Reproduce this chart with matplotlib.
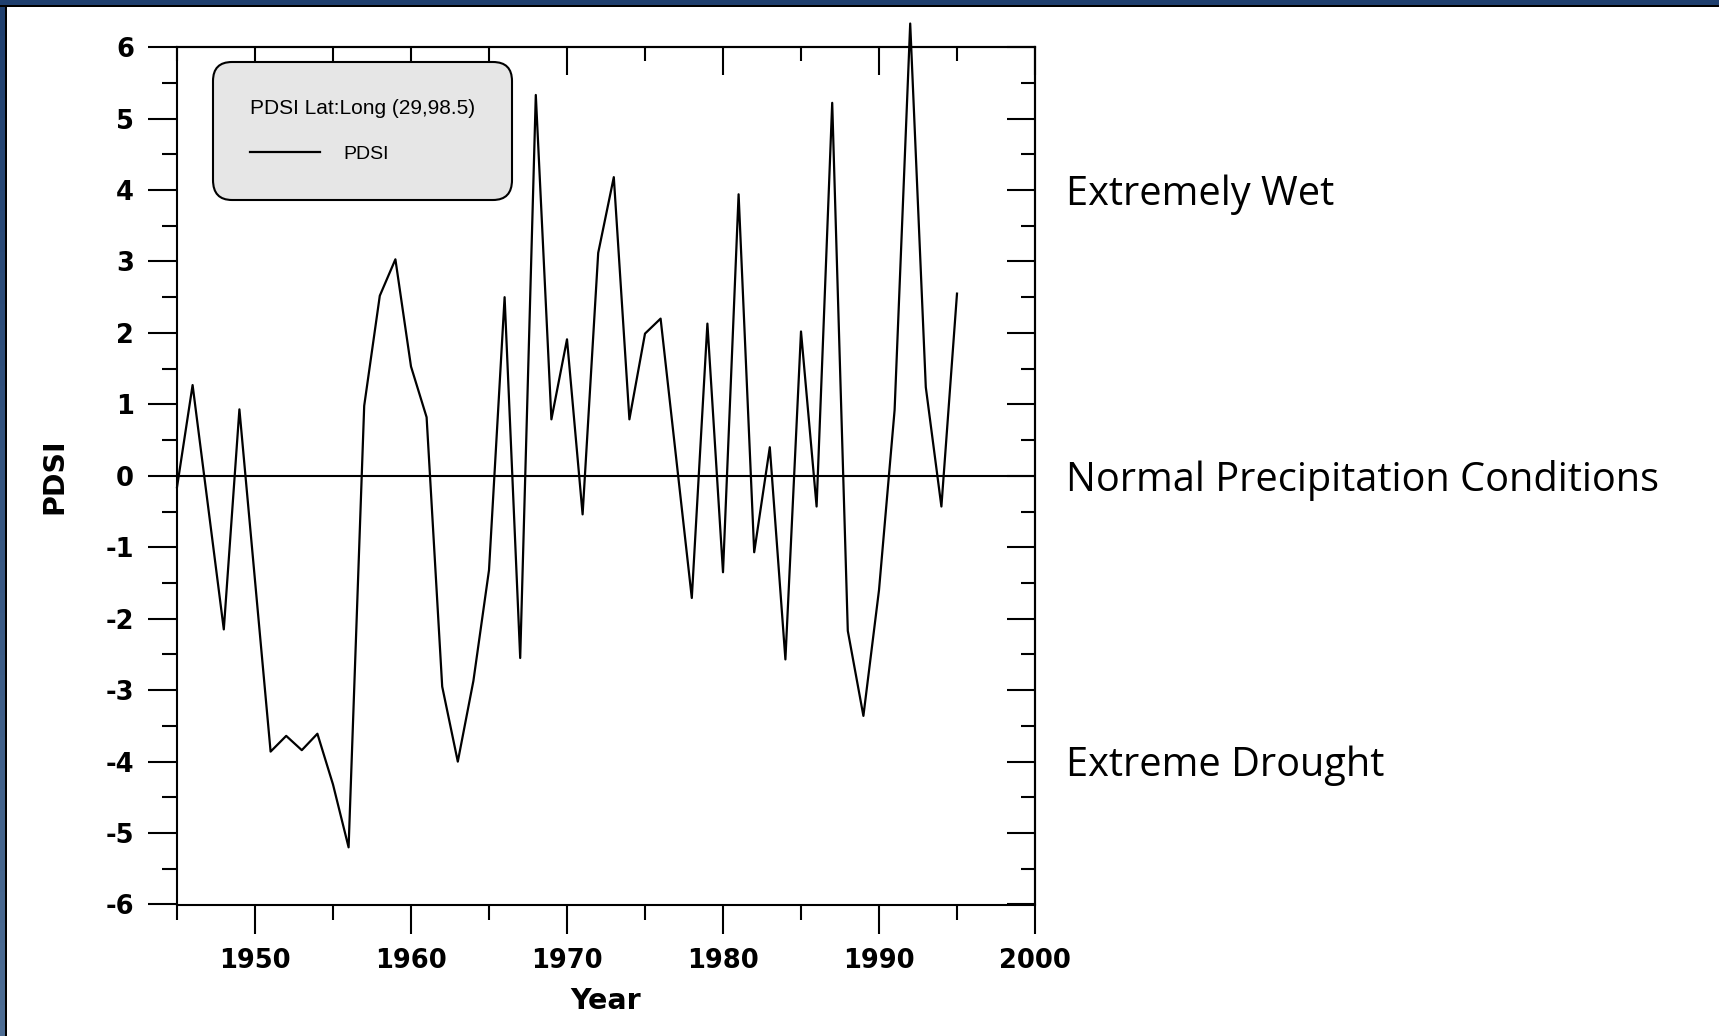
import matplotlib
matplotlib.use('Agg')
import matplotlib.pyplot as plt
from matplotlib.ticker import MultipleLocator
from matplotlib.patches import Rectangle
from matplotlib.colors import LinearSegmentedColormap
import numpy as np

# ======================
# DATA
# ======================

years = [1945, 1946, 1948, 1949, 1951, 1952, 1953, 1954, 1955, 1956,
         1957, 1958, 1959, 1960, 1961, 1962, 1963, 1964, 1965, 1966,
         1967, 1968, 1969, 1970, 1971, 1972, 1973, 1974, 1975, 1976,
         1978, 1979, 1980, 1981, 1982, 1983, 1984, 1985, 1986, 1987,
         1988, 1989, 1990, 1991, 1992, 1993, 1994, 1995]
pdsi = [-0.16, 1.27, -2.15, 0.93, -3.86, -3.64, -3.84, -3.61, -4.32, -5.2,
        0.98, 2.52, 3.03, 1.53, 0.82, -2.95, -4.0, -2.87, -1.32, 2.5,
        -2.55, 5.33, 0.79, 1.91, -0.54, 3.12, 4.18, 0.79, 1.99, 2.2,
        -1.71, 2.13, -1.35, 3.94, -1.07, 0.40, -2.57, 2.02, -0.43, 5.22,
        -2.17, -3.36, -1.6, 0.92, 6.33, 1.24, -0.43, 2.55]

zone_names = ['Extremely Wet', 'Normal Precipitation Conditions', 'Extreme Drought']
zone_levels = [4, 0, -4]

# ======================
# STYLE
# ======================

plt.rcParams['font.family'] = ['DejaVu Sans']
plt.rcParams['axes.unicode_minus'] = False

W, H = 1719, 1036
fig = plt.figure(figsize=(W / 100, H / 100), dpi=100)
fig.patch.set_facecolor('white')

ax = fig.add_axes([177 / W, 1 - 904.5 / H, (1035 - 177) / W, (904.5 - 47.1) / H])

# data line and zero line
ax.plot(years, pdsi, color='k', lw=1.6, clip_on=False, label='PDSI', zorder=3)
ax.axhline(0, color='k', lw=1.5, zorder=2)

ax.set_xlim(1945, 2000)
ax.set_ylim(-6, 6)

for s in ax.spines.values():
    s.set_linewidth(1.5)

ax.xaxis.set_major_locator(MultipleLocator(10))
ax.xaxis.set_minor_locator(MultipleLocator(5))
ax.yaxis.set_major_locator(MultipleLocator(1))
ax.yaxis.set_minor_locator(MultipleLocator(0.5))
ax.tick_params(which='major', direction='out', length=21, width=1.5,
               labelsize=18.5, pad=10)
ax.tick_params(which='minor', direction='out', length=10.5, width=1.5)
for lbl in ax.get_xticklabels() + ax.get_yticklabels():
    lbl.set_fontweight('bold')

# inward ticks on top and right
top = ax.secondary_xaxis('top')
top.xaxis.set_major_locator(MultipleLocator(10))
top.xaxis.set_minor_locator(MultipleLocator(5))
top.tick_params(which='major', direction='in', length=20, width=1.5, labeltop=False)
top.tick_params(which='minor', direction='in', length=10, width=1.5)
right = ax.secondary_yaxis('right')
right.yaxis.set_major_locator(MultipleLocator(1))
right.yaxis.set_minor_locator(MultipleLocator(0.5))
right.tick_params(which='major', direction='in', length=20, width=1.5, labelright=False)
right.tick_params(which='minor', direction='in', length=10, width=1.5)
for sec in (top, right):
    for s in sec.spines.values():
        s.set_linewidth(1.5)

ax.set_xlabel('Year', fontsize=20.5, fontweight='bold', va='center')
ax.xaxis.set_label_coords(0.5, -0.112)
ax.set_ylabel('PDSI', fontsize=20.5, fontweight='bold', va='center')
ax.yaxis.set_label_coords(-0.143, 0.5)

# legend
leg = ax.legend(loc='upper left', bbox_to_anchor=(0.042, 0.9826), borderaxespad=0,
                title='PDSI Lat:Long (29,98.5)', alignment='left',
                prop={'family': 'Liberation Sans', 'size': 14},
                title_fontproperties={'family': 'Liberation Sans', 'size': 15},
                handlelength=3.6, handletextpad=1.2, borderpad=1.9, labelspacing=1.4,
                fancybox=True, facecolor='#e6e6e6', edgecolor='k', framealpha=1)
leg.get_frame().set_linewidth(1.5)
leg.get_frame().set_boxstyle('round', pad=0, rounding_size=1.0)
leg.set_zorder(5)

# zone annotations right of the plot
for name, lvl in zip(zone_names, zone_levels):
    ax.text(2002, lvl - 0.06, name, fontsize=28.6, family='Open Sans',
            va='center', ha='left', clip_on=False)

# slide frame: navy band on top, gradient on the left
fig.add_artist(Rectangle((0, 1 - 5 / H), 1, 5 / H, transform=fig.transFigure,
                         facecolor='#1f3f6e', edgecolor='none'))
fig.add_artist(Rectangle((0, 1 - 7 / H), 1, 2 / H, transform=fig.transFigure,
                         facecolor='k', edgecolor='none'))
gax = fig.add_axes([0, 0, 5 / W, 1 - 5 / H])
cmap = LinearSegmentedColormap.from_list('frame', ['#1f3f6e', '#4d6d94'])
gax.imshow(np.linspace(0, 1, 100)[:, None], cmap=cmap, aspect='auto')
gax.axis('off')
fig.add_artist(Rectangle((5 / W, 0), 2 / W, 1 - 5 / H, transform=fig.transFigure,
                         facecolor='k', edgecolor='none'))

fig.savefig('out.png', dpi=100)
